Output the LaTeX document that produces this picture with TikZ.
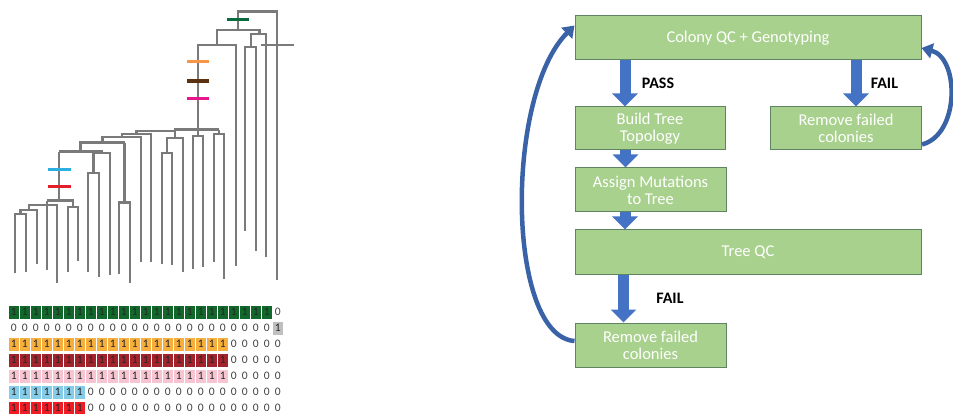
\documentclass[tikz,border=0pt]{standalone}
\usepackage{fontspec}
\setmainfont{Carlito}
\usetikzlibrary{arrows.meta,positioning}
\definecolor{boxgreen}{HTML}{A9D18E}
\definecolor{boxedge}{HTML}{5F8463}
\definecolor{flowblue}{HTML}{4472C4}
\definecolor{loopblue}{HTML}{3A62A6}
\definecolor{treegray}{HTML}{7A7A7A}
\definecolor{mkgreen}{HTML}{0B6B3F}
\definecolor{morange}{HTML}{F79646}
\definecolor{mbrown}{HTML}{5A3210}
\definecolor{mpink}{HTML}{E8168C}
\definecolor{mblue}{HTML}{2BAEE0}
\definecolor{mred}{HTML}{E41E2B}
\definecolor{cgreen}{HTML}{12682B}
\definecolor{corange}{HTML}{F6AE3C}
\definecolor{cdarkred}{HTML}{A3232C}
\definecolor{cpink}{HTML}{F7C5D1}
\definecolor{cblue}{HTML}{85CCE9}
\definecolor{cred}{HTML}{EE1C25}
\definecolor{cgray}{HTML}{BFBFBF}
\tikzset{
  stepbox/.style={draw=boxedge, line width=1pt, fill=boxgreen, text=white, align=center,
    inner sep=0pt, font=\fontsize{16.5}{17}\selectfont},
  blockarrow/.style={draw=flowblue, line width=11pt, -{Triangle[width=25pt,length=13pt]}},
  looparrow/.style={draw=loopblue, line width=4.5pt, -{Triangle[width=15pt,length=11pt]}},
  flowlabel/.style={font=\fontsize{16}{17}\selectfont\bfseries, text=black},
  branch/.style={draw=treegray, line width=2.4pt},
  mutbar/.style={draw=#1, line width=3.5pt},
  cell/.style={fill=#1, minimum width=10pt, minimum height=13pt, inner sep=0pt,
    text=black!85, font=\fontsize{11.5}{11}\selectfont},
  zero/.style={minimum width=10pt, minimum height=13pt, inner sep=0pt,
    text=black!75, font=\fontsize{11.5}{11}\selectfont}
}
\begin{document}
\begin{tikzpicture}[x=1pt,y=-1pt]
  \useasboundingbox (0,0) rectangle (953,414);
  \clip (0,0) rectangle (953,414);

  % tree
  \draw[branch] (15,273) |- (26,214) -- (26,272);
  \draw[branch] (20.5,214) |- (37,210) -- (37,264);
  \draw[branch] (29,210) |- (57,205) -- (57,283);
  \draw[branch] (47,200.7) -- (47,270);
  \draw[branch] (68,272) |- (78,207) -- (78,261);
  \draw[branch] (73,207) |- (47,200.7);
  \draw[branch] (59,200.7) -- (59,151.7);
  \draw[branch] (88,272) |- (99,173.3) -- (99,277);
  \draw[branch] (93.5,173.3) |- (110,153.3) -- (110,275);
  \draw[branch] (102,153.3) |- (59,151.7);
  \draw[branch] (80.5,151.7) |- (124.5,142.7);
  \draw[branch] (119,274) |- (130,202.7) -- (130,283);
  \draw[branch] (124.5,202.7) -- (124.5,142.7);
  \draw[branch] (102.5,142.7) |- (141,137.3) -- (141,262);
  \draw[branch] (121.7,137.3) |- (151,134) -- (151,262);
  \draw[branch] (136.4,134) |- (175,131.3);
  \draw[branch] (162,264) |- (172,153) -- (172,265);
  \draw[branch] (167,153) |- (183,138) -- (183,272);
  \draw[branch] (175,138) -- (175,129.7) -- (219,129.7);
  \draw[branch] (193,269) |- (203,136) -- (203,267);
  \draw[branch] (214,262) |- (224,134) -- (224,279);
  \draw[branch] (219,134) -- (219,129.7);
  \draw[branch] (198,136) -- (198,45) -- (236,45) -- (236,266);
  \draw[branch] (217,45) |- (259.3,30) -- (259.3,34);
  \draw[branch] (251,47.3) |- (266,34) -- (266,257);
  \draw[branch] (245,231) |- (256,47.3) -- (256,251);
  \draw[branch] (238,30) |- (277,11.7) -- (277,280);
  \draw[branch] (261,45) -- (294,45);

  % mutation marks
  \draw[mutbar=mkgreen] (227,19.3) -- (249,19.3);
  \draw[mutbar=morange] (187,61.7) -- (209,61.7);
  \draw[mutbar=mbrown] (187,81) -- (209,81);
  \draw[mutbar=mpink] (187,98.3) -- (209,98.3);
  \draw[mutbar=mblue] (48,169.3) -- (71,169.3);
  \draw[mutbar=mred] (48,186.7) -- (71,186.7);

  % genotype matrix
  \foreach \r/\n/\c in {1/24/cgreen,3/20/corange,4/20/cdarkred,5/20/cpink,6/7/cblue,7/7/cred}{
    \foreach \j in {1,...,\n}
      \node[cell=\c] (c\r-\j) at ({13.8+11*(\j-1)},{312+16*(\r-1)}) {1};
    \pgfmathtruncatemacro{\m}{\n+1}
    \foreach \j in {\m,...,25}
      \node[zero] (c\r-\j) at ({13.8+11*(\j-1)},{312+16*(\r-1)}) {0};
  }
  \foreach \j in {1,...,24}
    \node[zero] (c2-\j) at ({13.8+11*(\j-1)},328) {0};
  \node[cell=cgray] (c2-25) at (277.8,328) {1};

  % pipeline
  \node[stepbox, minimum width=346pt, minimum height=44pt] (qc) at (748,38) {Colony QC + Genotyping};
  \node[stepbox, minimum width=150pt, minimum height=43pt] (build) at (650,128.5) {Build Tree\\Topology};
  \node[stepbox, minimum width=151pt, minimum height=43pt] (rmqc) at (846,128.5) {Remove failed\\colonies};
  \node[stepbox, minimum width=151pt, minimum height=44pt] (assign) at (650.5,190) {Assign Mutations\\to Tree};
  \node[stepbox, minimum width=346pt, minimum height=44pt] (treeqc) at (748,252) {Tree QC};
  \node[stepbox, minimum width=151pt, minimum height=44pt] (rmtree) at (650.5,345) {Remove failed\\colonies};

  \path (build.north) ++(-25,0) coordinate (passx);
  \path (assign.north) ++(-25,0) coordinate (topox);
  \path (treeqc.north) ++(-123,0) coordinate (mutx);
  \path (rmtree.north) ++(-27,0) coordinate (failx);
  \path (rmqc.north) ++(10,0) coordinate (qcfailx);

  \draw[blockarrow] (passx |- qc.south) -- (passx) node[flowlabel, midway, right=8pt] (pass) {PASS};
  \draw[blockarrow] (qcfailx |- qc.south) -- (qcfailx) node[flowlabel, midway, right=6pt] (qcfail) {FAIL};
  \draw[blockarrow] (topox |- build.south) -- (topox);
  \draw[blockarrow] (mutx |- assign.south) -- (mutx);
  \draw[blockarrow] (failx |- treeqc.south) -- (failx) node[flowlabel, midway, right=24pt] (treefail) {FAIL};

  \draw[looparrow] ([yshift=4pt]rmtree.west) .. controls +(-68,-5) and +(-70,70) .. ([yshift=-10pt]qc.north west);
  \draw[looparrow] ([yshift=-16pt]rmqc.east) .. controls +(38,-10) and +(38,10) .. ([yshift=-10pt]qc.east);
\end{tikzpicture}
\end{document}
